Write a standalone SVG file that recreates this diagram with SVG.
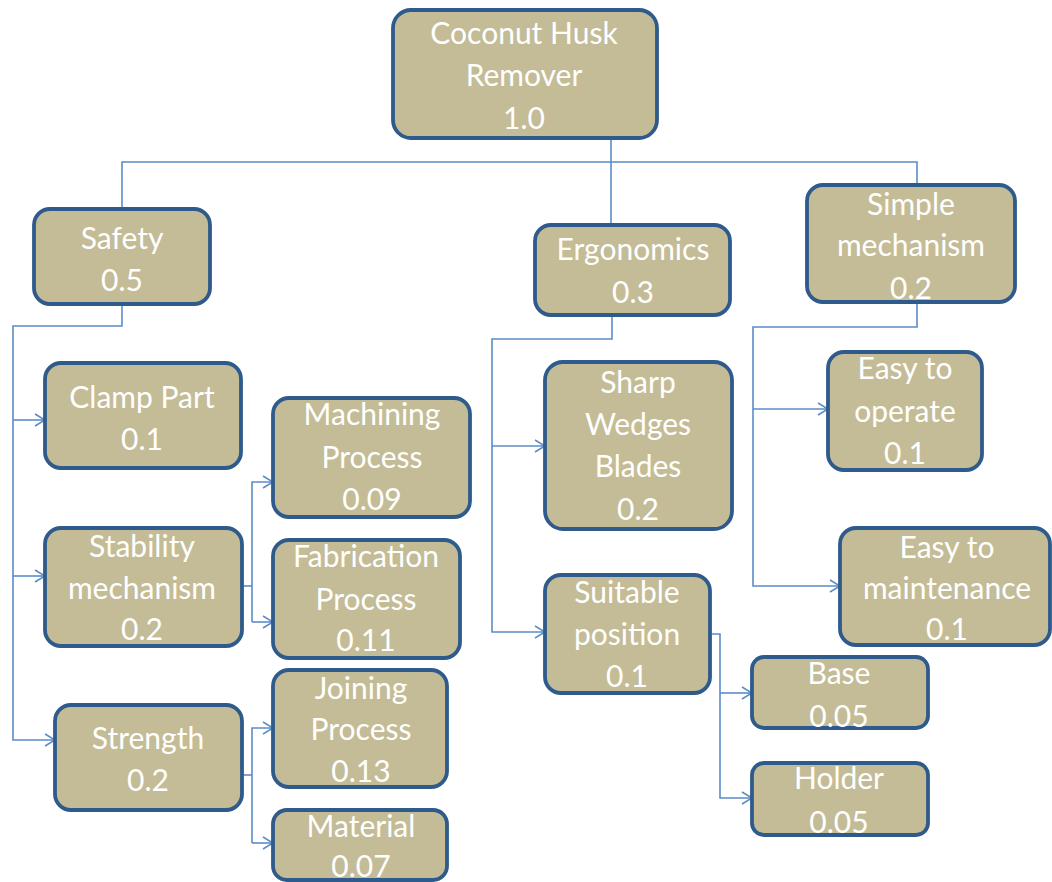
<svg xmlns="http://www.w3.org/2000/svg" width="1052" height="882" viewBox="0 0 1052 882">
<defs>
<marker id="arr" markerUnits="userSpaceOnUse" markerWidth="12" markerHeight="14" refX="11" refY="7" orient="auto">
<path d="M1,1 L11,7 L1,13" fill="none" stroke="#5B8CC8" stroke-width="1.6"/>
</marker>
</defs>
<style>
.box{fill:#C4BC96;stroke:#2F5A8C;stroke-width:3.8}
.t{font-family:Lato,"Liberation Sans",sans-serif;font-size:30px;fill:#FFFFFF;text-anchor:middle}
.c{fill:none;stroke:#5B8CC8;stroke-width:1.6}
</style>
<rect width="1052" height="882" fill="#FFFFFF"/>
<g id="connectors">
<path class="c" d="M611,138 V225"/>
<path class="c" d="M122,209 V162 H917 V185"/>
<path class="c" d="M122,304 V326 H13 V740 H55" marker-end="url(#arr)"/>
<path class="c" d="M13,420 H45" marker-end="url(#arr)"/>
<path class="c" d="M13,576 H45" marker-end="url(#arr)"/>
<path class="c" d="M242,586 H252"/>
<path class="c" d="M252,622 V482 H273" marker-end="url(#arr)"/>
<path class="c" d="M252,622 H273" marker-end="url(#arr)"/>
<path class="c" d="M242,775 H252"/>
<path class="c" d="M252,843 V728 H273" marker-end="url(#arr)"/>
<path class="c" d="M252,843 H273" marker-end="url(#arr)"/>
<path class="c" d="M612,315 V339 H492 V632 H545" marker-end="url(#arr)"/>
<path class="c" d="M492,446 H545" marker-end="url(#arr)"/>
<path class="c" d="M710,634 H720 V798 H752" marker-end="url(#arr)"/>
<path class="c" d="M720,693 H752" marker-end="url(#arr)"/>
<path class="c" d="M917,302 V327 H753 V586 H840" marker-end="url(#arr)"/>
<path class="c" d="M753,409 H828" marker-end="url(#arr)"/>
</g>
<g id="root">
<rect class="box" x="393" y="10" width="264" height="128" rx="18"/>
<text class="t" x="524" y="44">Coconut Husk</text>
<text class="t" x="524" y="86">Remover</text>
<text class="t" x="524" y="129">1.0</text>
</g>
<g id="safety">
<rect class="box" x="34" y="209" width="176" height="95" rx="16"/>
<text class="t" x="122" y="249">Safety</text>
<text class="t" x="122" y="291">0.5</text>
</g>
<g id="ergonomics">
<rect class="box" x="535" y="225" width="195" height="90" rx="16"/>
<text class="t" x="633" y="260">Ergonomics</text>
<text class="t" x="633" y="303">0.3</text>
</g>
<g id="simple-mechanism">
<rect class="box" x="807" y="185" width="208" height="117" rx="16"/>
<text class="t" x="911" y="215">Simple</text>
<text class="t" x="911" y="256">mechanism</text>
<text class="t" x="911" y="299">0.2</text>
</g>
<g id="clamp-part">
<rect class="box" x="45" y="363" width="196" height="105" rx="16"/>
<text class="t" x="142" y="408">Clamp Part</text>
<text class="t" x="142" y="450">0.1</text>
</g>
<g id="stability-mechanism">
<rect class="box" x="45" y="528" width="197" height="118" rx="16"/>
<text class="t" x="142" y="557">Stability</text>
<text class="t" x="142" y="599">mechanism</text>
<text class="t" x="142" y="640">0.2</text>
</g>
<g id="strength">
<rect class="box" x="55" y="705" width="187" height="105" rx="16"/>
<text class="t" x="148" y="749">Strength</text>
<text class="t" x="148" y="791">0.2</text>
</g>
<g id="machining-process">
<rect class="box" x="273" y="398" width="197" height="119" rx="16"/>
<text class="t" x="372" y="425">Machining</text>
<text class="t" x="372" y="468">Process</text>
<text class="t" x="372" y="510">0.09</text>
</g>
<g id="fabrication-process">
<rect class="box" x="273" y="540" width="187" height="118" rx="16"/>
<text class="t" x="366" y="567">Fabrication</text>
<text class="t" x="366" y="610">Process</text>
<text class="t" x="366" y="651">0.11</text>
</g>
<g id="joining-process">
<rect class="box" x="273" y="670" width="174" height="117" rx="16"/>
<text class="t" x="361" y="699">Joining</text>
<text class="t" x="361" y="740">Process</text>
<text class="t" x="361" y="782">0.13</text>
</g>
<g id="material">
<rect class="box" x="273" y="810" width="174" height="70" rx="14"/>
<text class="t" x="361" y="837">Material</text>
<text class="t" x="361" y="877">0.07</text>
</g>
<g id="sharp-wedges-blades">
<rect class="box" x="545" y="362" width="187" height="167" rx="18"/>
<text class="t" x="638" y="393">Sharp</text>
<text class="t" x="638" y="435">Wedges</text>
<text class="t" x="638" y="477">Blades</text>
<text class="t" x="638" y="520">0.2</text>
</g>
<g id="suitable-position">
<rect class="box" x="545" y="575" width="165" height="118" rx="16"/>
<text class="t" x="627" y="603">Suitable</text>
<text class="t" x="627" y="645">position</text>
<text class="t" x="627" y="687">0.1</text>
</g>
<g id="easy-to-operate">
<rect class="box" x="828" y="352" width="154" height="118" rx="16"/>
<text class="t" x="905" y="379">Easy to</text>
<text class="t" x="905" y="422">operate</text>
<text class="t" x="905" y="464">0.1</text>
</g>
<g id="easy-to-maintenance">
<rect class="box" x="840" y="528" width="210" height="117" rx="16"/>
<text class="t" x="947" y="558">Easy to</text>
<text class="t" x="947" y="599">maintenance</text>
<text class="t" x="947" y="640">0.1</text>
</g>
<g id="base">
<rect class="box" x="752" y="657" width="176" height="71" rx="12"/>
<text class="t" x="839" y="684">Base</text>
<text class="t" x="839" y="727">0.05</text>
</g>
<g id="holder">
<rect class="box" x="752" y="763" width="176" height="72" rx="12"/>
<text class="t" x="839" y="789">Holder</text>
<text class="t" x="839" y="833">0.05</text>
</g>
</svg>
